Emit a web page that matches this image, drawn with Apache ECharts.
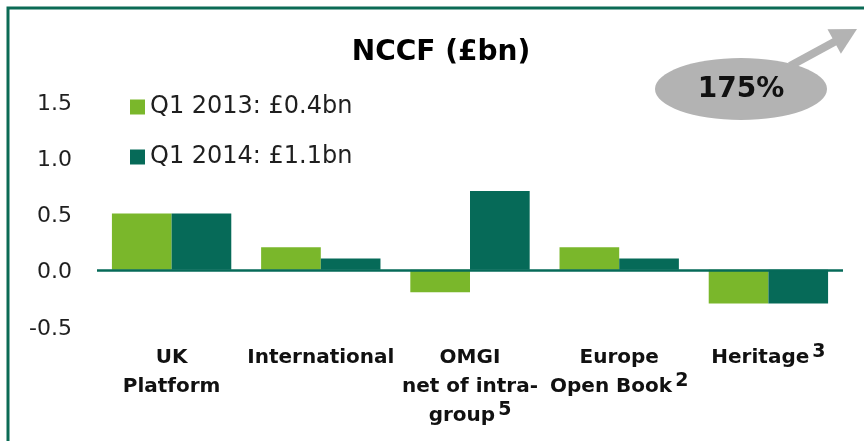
<!DOCTYPE html>
<html>
<head>
<meta charset="utf-8">
<script src="https://cdn.jsdelivr.net/npm/echarts@6.0.0/dist/echarts.min.js"></script>
<style>
  html, body { margin: 0; padding: 0; background: #fff; }
  #main { width: 864px; height: 441px; }
</style>
</head>
<body>
<div id="main"></div>
<script>
// data
const categories = ['UK\nPlatform', 'International', 'OMGI\nnet of intra-\ngroup', 'Europe\nOpen Book', 'Heritage']
const footnotes = ['', '', '5', '2', '3']
const seriesNames = ['Q1 2013: £0.4bn', 'Q1 2014: £1.1bn']
const q1_2013 = [0.5, 0.2, -0.2, 0.2, -0.3]
const q1_2014 = [0.5, 0.1, 0.7, 0.1, -0.3]
const yTicks = [-0.5, 0.0, 0.5, 1.0, 1.5]

const lightGreen = '#7ab72b'
const darkGreen = '#066a58'
const font = 'DejaVu Sans'

const chart = echarts.init(document.getElementById('main'))

const option = {
  animation: false,
  backgroundColor: '#fff',
  grid: { left: 97, right: 21, top: 101, bottom: 115, outerBoundsMode: 'none' },
  legend: {
    orient: 'vertical',
    left: 125,
    top: 90,
    itemWidth: 15,
    itemHeight: 15,
    itemGap: 26,
    icon: 'rect',
    data: seriesNames,
    textStyle: { fontFamily: font, fontSize: 24, color: '#1f1f1f', lineHeight: 24 }
  },
  xAxis: {
    type: 'category',
    data: categories,
    axisLine: { show: false, onZero: false },
    axisTick: { show: false },
    axisLabel: {
      interval: 0,
      margin: 17,
      fontFamily: font,
      fontWeight: 'bold',
      fontSize: 20,
      lineHeight: 29,
      color: '#111',
      formatter: function (value, idx) {
        const note = footnotes[idx]
        return note ? value + '{sup|' + note + '}' : value
      },
      rich: {
        sup: { fontFamily: font, fontWeight: 'bold', fontSize: 19, lineHeight: 14, verticalAlign: 'top', padding: [0, 0, 0, 3], color: '#111' }
      }
    }
  },
  yAxis: {
    type: 'value',
    min: yTicks[0],
    max: yTicks[yTicks.length - 1],
    interval: 0.5,
    axisLine: { show: false },
    axisTick: { show: false },
    splitLine: { show: false },
    axisLabel: {
      margin: 25,
      verticalAlign: 'top',
      lineHeight: 6,
      fontFamily: font,
      fontSize: 22,
      color: '#1f1f1f',
      formatter: v => v.toFixed(1)
    }
  },
  series: [
    {
      name: seriesNames[0],
      type: 'bar',
      data: q1_2013,
      itemStyle: { color: lightGreen },
      barGap: '0%',
      barCategoryGap: '20%',
      markLine: {
        silent: true,
        symbol: 'none',
        label: { show: false },
        lineStyle: { color: darkGreen, width: 2.5, type: 'solid' },
        data: [{ yAxis: 0 }]
      }
    },
    {
      name: seriesNames[1],
      type: 'bar',
      data: q1_2014,
      itemStyle: { color: darkGreen },
      barGap: '0%',
      barCategoryGap: '20%'
    }
  ],
  graphic: [
    // frame
    {
      type: 'rect',
      shape: { x: 8, y: 8, width: 900, height: 500 },
      style: { fill: 'none', stroke: '#0b6b55', lineWidth: 3 },
      silent: true
    },
    {
      type: 'text',
      x: 441, y: 53,
      style: { text: 'NCCF (£bn)', font: 'bold 28px "DejaVu Sans"', fill: '#000', textAlign: 'center', textVerticalAlign: 'middle' }
    },
    // growth arrow + bubble
    {
      type: 'line',
      shape: { x1: 790, y1: 66, x2: 836, y2: 41 },
      style: { stroke: '#b3b3b3', lineWidth: 8 }
    },
    {
      type: 'polygon',
      shape: { points: [[857, 29], [840.9, 53.8], [827.5, 29.2]] },
      style: { fill: '#b3b3b3' }
    },
    {
      type: 'ellipse',
      shape: { cx: 741, cy: 89, rx: 86, ry: 31 },
      style: { fill: '#b3b3b3' }
    },
    {
      type: 'text',
      x: 741, y: 90,
      style: { text: '175%', font: 'bold 28px "DejaVu Sans"', fill: '#111', textAlign: 'center', textVerticalAlign: 'middle' }
    }
  ]
}

chart.setOption(option)
</script>
</body>
</html>
